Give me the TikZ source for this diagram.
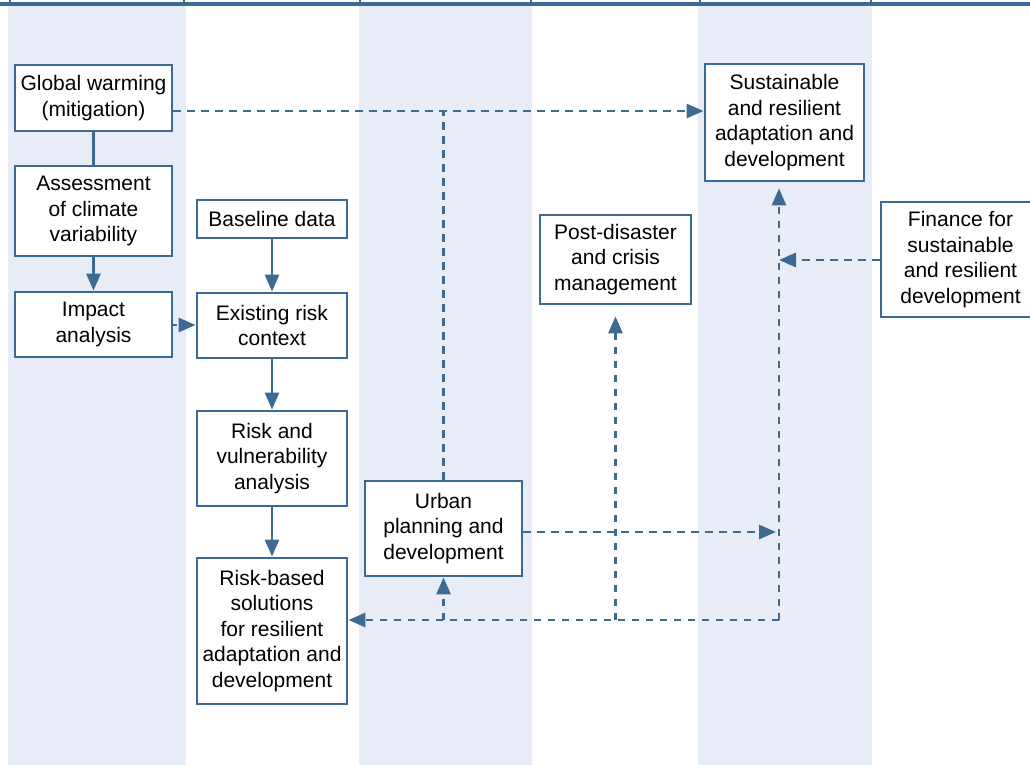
\documentclass[tikz,border=0pt]{standalone}
\usepackage{fontspec}
\setmainfont{Liberation Sans}
\usetikzlibrary{arrows.meta}
\definecolor{linec}{RGB}{61,106,146}
\definecolor{bandc}{RGB}{232,236,247}
\begin{document}
\begin{tikzpicture}[x=1pt,y=-1pt,
  box/.style={draw=linec, line width=2.8pt, fill=white, align=center, inner sep=0pt,
    font=\fontsize{21}{25.5}\selectfont},
  flow/.style={draw=linec, line width=2.8pt, -{Triangle[length=17pt,width=14pt]}},
  link/.style={flow, dash pattern=on 7.5pt off 6.5pt},
  dline/.style={draw=linec, line width=2.8pt, dash pattern=on 7.5pt off 6.5pt},
  plain/.style={draw=linec, line width=2.8pt}]
\clip (0,0) rectangle (1030,765);
% shaded columns
\fill[bandc] (8,5) rectangle (186,765);
\fill[bandc] (359,5) rectangle (532,765);
\fill[bandc] (698,5) rectangle (872,765);
% header rule with column dividers
\draw[linec, line width=3.5pt] (0,4) -- (1030,4);
\foreach \x in {10,184,360,531,700,871} \draw[linec, line width=2.2pt] (\x,0) -- (\x,4);

% boxes
\node[box, minimum width=157pt, minimum height=66pt] (gw) at (93.5,98) {Global warming\\(mitigation)};
\node[box, minimum width=157pt, minimum height=90pt] (assess) at (93.5,211) {Assessment\\of climate\\variability};
\node[box, minimum width=157pt, minimum height=65pt] (impact) at (93.5,324.5) {Impact\\analysis};
\node[box, minimum width=150pt, minimum height=38pt] (base) at (272,219) {Baseline data};
\node[box, minimum width=150pt, minimum height=65pt] (exist) at (272,325.5) {Existing risk\\context};
\node[box, minimum width=150pt, minimum height=95pt] (rv) at (272,458.5) {Risk and\\vulnerability\\analysis};
\node[box, minimum width=150pt, minimum height=146pt] (rbs) at (272,631) {Risk-based\\solutions\\for resilient\\adaptation and\\development};
\node[box, minimum width=157pt, minimum height=95pt] (urban) at (443.5,528.5) {Urban\\planning and\\development};
\node[box, minimum width=151pt, minimum height=89pt] (post) at (615.5,259.5) {Post-disaster\\and crisis\\management};
\node[box, minimum width=159pt, minimum height=117pt] (sust) at (784.5,122.5) {Sustainable\\and resilient\\adaptation and\\development};
\node[box, minimum width=159pt, minimum height=115pt] (fin) at (960.5,259.5) {Finance for\\sustainable\\and resilient\\development};

% routing levels
\coordinate (ytop) at (0,111);
\coordinate (yimp) at (0,325);
\coordinate (yfin) at (0,260);
\coordinate (yurb) at (0,532);
\coordinate (ybot) at (0,620);
\coordinate (jx) at (779,0);

% solid chain
\draw[plain] (gw) -- (assess);
\draw[flow] (assess) -- (impact);
\draw[flow] (base) -- (exist);
\draw[flow] (exist) -- (rv);
\draw[flow] (rv) -- (rbs);

% dashed links
\draw[link, dash pattern=on 4pt off 4pt] (impact.east |- yimp) -- (exist.west |- yimp);
\draw[link] (gw.east |- ytop) -- (sust.west |- ytop);
\draw[dline] (urban.north) -- (urban.north |- ytop);
\draw[link, shorten >=3pt] (urban.east |- yurb) -- (jx |- yurb);
\draw[link] (fin.west |- yfin) -- (jx |- yfin);
\draw[link] (jx |- ybot) -- (rbs.east |- ybot);
\draw[link, shorten >=6pt] (jx |- ybot) -- (jx |- sust.south);
\draw[link, shorten >=11pt] (post.south |- ybot) -- (post.south);
\draw[link] (urban.south |- ybot) -- (urban.south);
\end{tikzpicture}
\end{document}
